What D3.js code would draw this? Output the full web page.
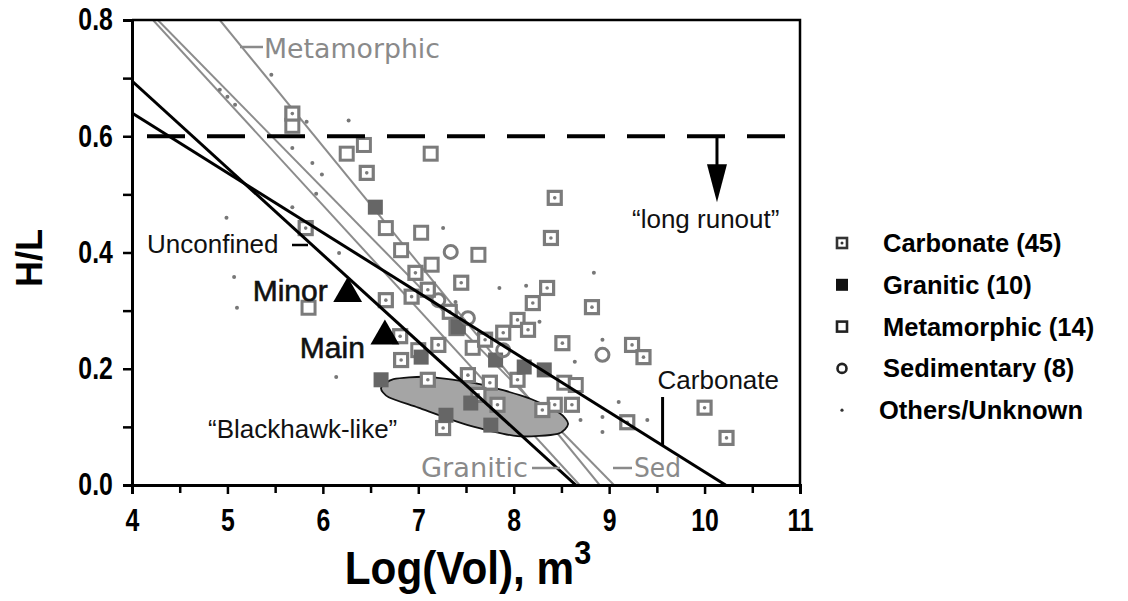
<!DOCTYPE html>
<html>
<head>
<meta charset="utf-8">
<title>H/L vs Log(Vol)</title>
<script src="https://cdn.jsdelivr.net/npm/d3@7"></script>
<style>
  body { margin: 0; background: #fff; font-family: 'Liberation Sans', Arial, sans-serif; }
  .lbl { font-size: 26px; fill: #111; }
  .gray-lbl { font-family: 'DejaVu Sans', sans-serif; font-size: 26px; fill: #8a8a8a; }
</style>
</head>
<body>
<div id="chart"></div>
<script>
// data: [log10 volume, H/L]
var carbonate = [[5.68,0.639],[6.46,0.537],[5.82,0.442],[8.43,0.494],[8.39,0.425],[8.35,0.339],[8.20,0.313],
  [8.04,0.284],[8.15,0.267],[7.89,0.262],[8.82,0.306],[7.45,0.348],[8.51,0.244],[9.24,0.241],[9.36,0.220],
  [8.43,0.138],[8.61,0.138],[9.19,0.108],[10.00,0.133],[10.23,0.081],[7.26,0.098],[7.75,0.176],[6.66,0.318],
  [6.81,0.256],[7.40,0.270],[6.97,0.365],[6.93,0.324],[7.10,0.336],[7.21,0.241],[7.52,0.189],[7.63,0.155],
  [8.04,0.181],[6.82,0.215],[7.10,0.181],[7.33,0.298],[7.70,0.250],[7.83,0.138],[8.30,0.129]];
var granitic = [[6.55,0.478],[7.03,0.220],[7.42,0.272],[7.81,0.215],[8.11,0.203],[8.32,0.198],
  [7.29,0.120],[7.55,0.141],[7.76,0.103],[6.61,0.181]];
var metamorphic = [[5.68,0.618],[6.43,0.585],[6.25,0.570],[7.13,0.570],[6.66,0.442],[7.03,0.434],[6.82,0.404],
  [7.63,0.396],[7.14,0.379],[5.85,0.305],[7.00,0.232],[7.57,0.236],[8.53,0.176],[8.65,0.172]];
var sedimentary = [[7.34,0.401],[8.93,0.224],[7.21,0.318],[7.52,0.287],[7.89,0.232]];
var others = [[5.46,0.706],[5.83,0.625],[6.27,0.627],[5.68,0.580],[5.89,0.554],[5.99,0.534],[5.93,0.501],
  [5.68,0.478],[4.99,0.460],[7.26,0.442],[6.17,0.399],[5.07,0.358],[5.10,0.305],[6.14,0.186],[7.39,0.315],
  [7.85,0.339],[8.13,0.343],[8.27,0.281],[8.84,0.365],[8.93,0.250],[8.64,0.212],[9.10,0.143],[9.40,0.112],
  [8.93,0.117],[8.93,0.091],[8.70,0.112],[4.92,0.680],[5.00,0.668],[5.08,0.654]];

// fitted trend lines (gray, from source figure) and the two black lines
var grayLines = [
  { name: "Granitic", pts: [[4.22,0.80],[8.69,0]] },
  { name: "Sed", pts: [[4.27,0.80],[9.05,0]] },
  { name: "Metamorphic", pts: [[4.92,0.80],[8.90,0]] }
];
var unconfinedLine = [[4,0.695],[8.65,0]];
var carbonateLine = [[4,0.64],[10.22,0]];

// "Blackhawk-like" field outline
var blackhawk = [[6.61,0.167],[6.74,0.182],[7.10,0.186],[7.63,0.174],[8.15,0.150],[8.48,0.124],[8.57,0.105],
  [8.46,0.088],[8.04,0.084],[7.52,0.103],[7.00,0.133],[6.69,0.151]];

var events = [{ name: "Minor", x: 6.26, y: 0.329 }, { name: "Main", x: 6.65, y: 0.256 }];
var longRunout = 0.6;

var xTicks = [4, 5, 6, 7, 8, 9, 10, 11];
var yTicks = [0, 0.2, 0.4, 0.6, 0.8];

var legendItems = ["Carbonate (45)", "Granitic (10)", "Metamorphic (14)", "Sedimentary (8)", "Others/Unknown"];

var width = 1128, height = 601;
var m = { l: 132, r: 800, t: 20, b: 485 };
var ptColor = "#7b7b7b";

var x = d3.scaleLinear().domain([4, 11]).range([m.l, m.r]);
var y = d3.scaleLinear().domain([0, 0.8]).range([m.b, m.t]);

// H/L on a two-point line at a given log volume
function lineAt(l, v) {
  return l[0][1] + (l[1][1] - l[0][1]) * (v - l[0][0]) / (l[1][0] - l[0][0]);
}

var svg = d3.select("#chart").append("svg")
  .attr("width", width)
  .attr("height", height);

svg.append("clipPath").attr("id", "plot")
  .append("rect").attr("x", m.l).attr("y", m.t).attr("width", m.r - m.l).attr("height", m.b - m.t);

var plot = svg.append("g").attr("clip-path", "url(#plot)");

var line = d3.line().x(function(d) { return x(d[0]); }).y(function(d) { return y(d[1]); });

// gray fit lines
plot.selectAll(".gline").data(grayLines).enter().append("path")
  .attr("d", function(d) { return line(d.pts); })
  .attr("fill", "none")
  .attr("stroke", "#8c8c8c")
  .attr("stroke-width", 2);

// blackhawk-like field
plot.append("path")
  .attr("d", d3.line().x(function(d) { return x(d[0]); }).y(function(d) { return y(d[1]); })
    .curve(d3.curveCardinalClosed.tension(0.3))(blackhawk))
  .attr("fill", "#a5a5a5")
  .attr("stroke", "#111")
  .attr("stroke-width", 1.8);

// points
var sq = 13;
plot.selectAll(".met").data(metamorphic).enter().append("rect")
  .attr("x", function(d) { return x(d[0]) - sq / 2; })
  .attr("y", function(d) { return y(d[1]) - sq / 2; })
  .attr("width", sq).attr("height", sq)
  .attr("fill", "#fff").attr("stroke", ptColor).attr("stroke-width", 3);

var carb = plot.selectAll(".carb").data(carbonate).enter().append("g")
  .attr("transform", function(d) { return "translate(" + x(d[0]) + "," + y(d[1]) + ")"; });
carb.append("rect")
  .attr("x", -sq / 2).attr("y", -sq / 2).attr("width", sq).attr("height", sq)
  .attr("fill", "#fff").attr("stroke", ptColor).attr("stroke-width", 3.2);
carb.append("circle").attr("r", 1.8).attr("fill", ptColor);

plot.selectAll(".gran").data(granitic).enter().append("rect")
  .attr("x", function(d) { return x(d[0]) - sq / 2 - 1; })
  .attr("y", function(d) { return y(d[1]) - sq / 2 - 1; })
  .attr("width", sq + 2).attr("height", sq + 2)
  .attr("fill", "#666");

plot.selectAll(".sed").data(sedimentary).enter().append("circle")
  .attr("cx", function(d) { return x(d[0]); })
  .attr("cy", function(d) { return y(d[1]); })
  .attr("r", 6.5)
  .attr("fill", "none").attr("stroke", ptColor).attr("stroke-width", 3);

plot.selectAll(".oth").data(others).enter().append("circle")
  .attr("cx", function(d) { return x(d[0]); })
  .attr("cy", function(d) { return y(d[1]); })
  .attr("r", 2)
  .attr("fill", "#777");

// black lines
[unconfinedLine, carbonateLine].forEach(function(l) {
  plot.append("path").attr("d", line(l))
    .attr("fill", "none").attr("stroke", "#000").attr("stroke-width", 3);
});

// long runout threshold
plot.append("line")
  .attr("x1", 147).attr("x2", 785)
  .attr("y1", y(longRunout)).attr("y2", y(longRunout))
  .attr("stroke", "#000").attr("stroke-width", 4)
  .attr("stroke-dasharray", "38,22");

var ax = x(10.13);
svg.append("line").attr("x1", ax).attr("x2", ax)
  .attr("y1", y(longRunout)).attr("y2", y(longRunout) + 30)
  .attr("stroke", "#000").attr("stroke-width", 3);
svg.append("path")
  .attr("d", "M" + (ax - 10) + "," + (y(longRunout) + 28) + "L" + (ax + 10) + "," + (y(longRunout) + 28) +
    "L" + ax + "," + (y(longRunout) + 66) + "Z")
  .attr("fill", "#000");

// triangles for the two events
svg.selectAll(".ev").data(events).enter().append("path")
  .attr("d", d3.symbol().type(d3.symbolTriangle).size(360))
  .attr("transform", function(d) { return "translate(" + x(d.x) + "," + y(d.y) + ")"; })
  .attr("fill", "#000");

svg.selectAll(".evlbl").data(events).enter().append("text")
  .attr("class", "lbl")
  .attr("x", function(d) { return x(d.x) - 20; })
  .attr("y", function(d) { return y(d.y) + (d.name === "Main" ? 22 : 7); })
  .attr("text-anchor", "end")
  .style("font-size", "30px")
  .attr("stroke", "#111").attr("stroke-width", 0.6)
  .text(function(d) { return d.name; });

// annotations
svg.append("text").attr("class", "lbl").attr("x", 147).attr("y", 253).text("Unconfined");
svg.append("line").attr("x1", 292).attr("x2", 308).attr("y1", 245).attr("y2", 245)
  .attr("stroke", "#000").attr("stroke-width", 2.5);

svg.append("text").attr("class", "lbl").attr("x", 208).attr("y", 438).text("\u201cBlackhawk-like\u201d");
svg.append("text").attr("class", "lbl").attr("x", 632).attr("y", 228).text("\u201clong runout\u201d");

var carbLblX = 9.56;
svg.append("text").attr("class", "lbl").attr("x", x(carbLblX) - 5).attr("y", 389).text("Carbonate");
svg.append("line").attr("x1", x(carbLblX)).attr("x2", x(carbLblX))
  .attr("y1", 397).attr("y2", y(lineAt(carbonateLine, carbLblX)))
  .attr("stroke", "#000").attr("stroke-width", 3);

// gray labels of fit lines
svg.append("text").attr("class", "gray-lbl").attr("x", 264).attr("y", 58)
  .attr("textLength", 176).attr("lengthAdjust", "spacingAndGlyphs").text("Metamorphic");
svg.append("line").attr("x1", 240).attr("x2", 263).attr("y1", 47).attr("y2", 47)
  .attr("stroke", "#8a8a8a").attr("stroke-width", 2.5);

svg.append("text").attr("class", "gray-lbl").attr("x", 421).attr("y", 477)
  .attr("textLength", 107).attr("lengthAdjust", "spacingAndGlyphs").text("Granitic");
svg.append("line").attr("x1", 532).attr("x2", 560).attr("y1", 468).attr("y2", 468)
  .attr("stroke", "#8a8a8a").attr("stroke-width", 2.5);

svg.append("text").attr("class", "gray-lbl").attr("x", 634).attr("y", 477)
  .attr("textLength", 47).attr("lengthAdjust", "spacingAndGlyphs").text("Sed");
svg.append("line").attr("x1", 613).attr("x2", 632).attr("y1", 468).attr("y2", 468)
  .attr("stroke", "#8a8a8a").attr("stroke-width", 2.5);

// frame top / right
svg.append("path")
  .attr("d", "M" + m.l + "," + m.t + "H" + m.r + "V" + m.b)
  .attr("fill", "none").attr("stroke", "#000").attr("stroke-width", 2.5);

// axes
var xAxis = svg.append("g").attr("transform", "translate(0," + m.b + ")")
  .call(d3.axisBottom(x).tickValues(xTicks).tickSize(9).tickPadding(15).tickFormat(d3.format("d")));
var xMinor = svg.append("g").attr("transform", "translate(0," + m.b + ")")
  .call(d3.axisBottom(x).tickValues(xTicks.slice(0, -1).map(function(v) { return v + 0.5; }))
    .tickSize(8).tickFormat(""));

var yAxis = svg.append("g").attr("transform", "translate(" + m.l + ",0)")
  .call(d3.axisLeft(y).tickValues(yTicks).tickSize(9).tickPadding(15).tickFormat(d3.format(".1f")));
var yMinor = svg.append("g").attr("transform", "translate(" + m.l + ",0)")
  .call(d3.axisLeft(y).tickValues([0.1, 0.3, 0.5, 0.7]).tickSize(9).tickFormat(""));

[xAxis, xMinor, yAxis, yMinor].forEach(function(g) {
  g.select(".domain").attr("stroke-width", 3).attr("stroke", "#000");
  g.selectAll(".tick line").attr("stroke-width", 2.5).attr("stroke", "#000");
  g.selectAll("text")
    .style("font-family", "'Liberation Sans', Arial, sans-serif")
    .style("font-size", "31px")
    .style("font-weight", "bold")
    .attr("fill", "#000");
});
xAxis.selectAll(".tick text").attr("transform", "scale(0.8,1)");
yAxis.selectAll(".tick text").attr("transform", "scale(0.8,1)");

svg.append("text")
  .attr("transform", "translate(42,258) rotate(-90)")
  .attr("text-anchor", "middle")
  .style("font-size", "36px").style("font-weight", "bold")
  .text("H/L");

var xt = svg.append("text")
  .attr("transform", "translate(468,584) scale(0.9,1)")
  .attr("text-anchor", "middle")
  .style("font-size", "47px").style("font-weight", "bold");
xt.append("tspan").text("Log(Vol), m");
xt.append("tspan").attr("dy", -20).style("font-size", "34px").text("3");

// legend
var lg = svg.append("g").attr("transform", "translate(842,243)");
var row = lg.selectAll("g").data(legendItems).enter().append("g")
  .attr("transform", function(d, i) { return "translate(0," + i * 41.8 + ")"; });

row.each(function(d, i) {
  var g = d3.select(this);
  if (i === 0) {
    g.append("rect").attr("x", -5).attr("y", -5).attr("width", 10).attr("height", 10)
      .attr("fill", "#fff").attr("stroke", "#333").attr("stroke-width", 2.6);
    g.append("circle").attr("r", 1.5).attr("fill", "#333");
  } else if (i === 1) {
    g.append("rect").attr("x", -6).attr("y", -6).attr("width", 12).attr("height", 12).attr("fill", "#111");
  } else if (i === 2) {
    g.append("rect").attr("x", -5).attr("y", -5).attr("width", 10).attr("height", 10)
      .attr("fill", "#fff").attr("stroke", "#222").attr("stroke-width", 2.6);
  } else if (i === 3) {
    g.append("circle").attr("r", 4.5).attr("fill", "none").attr("stroke", "#222").attr("stroke-width", 2.6);
  } else {
    g.append("circle").attr("r", 1.6).attr("fill", "#333");
  }
  g.append("text")
    .attr("x", i === 4 ? 37 : 41).attr("y", 9)
    .style("font-size", "25.5px").style("font-weight", "bold")
    .text(d);
});
</script>
</body>
</html>
